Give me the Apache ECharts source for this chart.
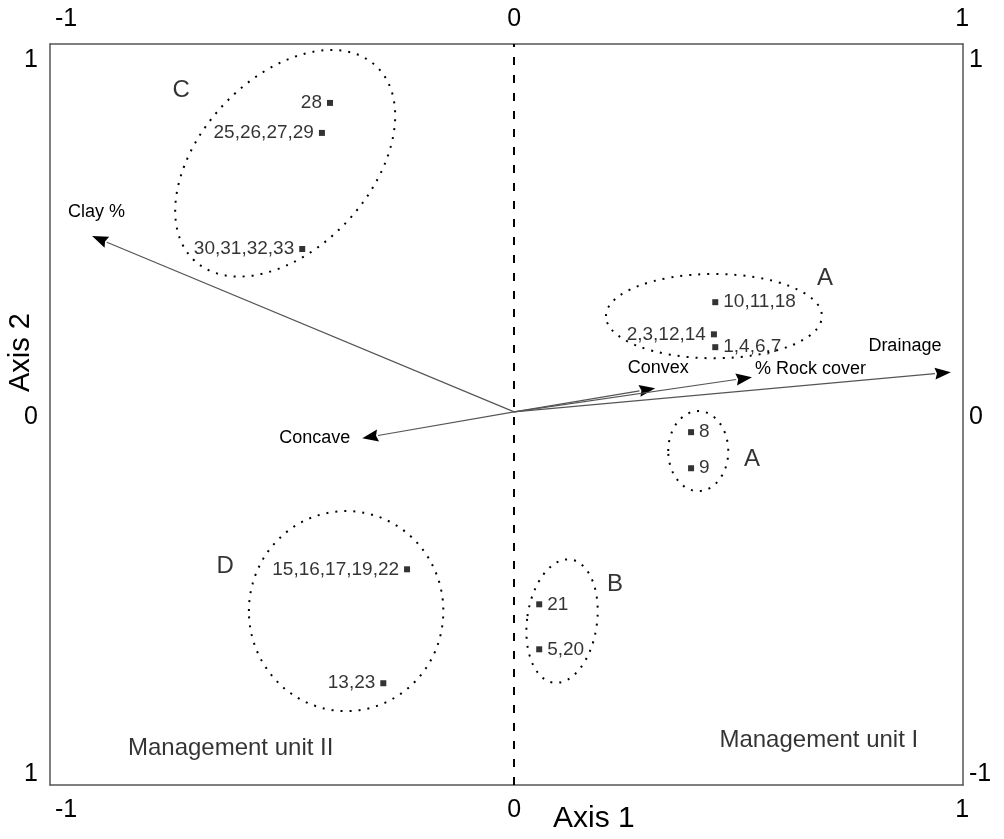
<!DOCTYPE html>
<html><head><meta charset="utf-8">
<script src="https://cdn.jsdelivr.net/npm/echarts@6/dist/echarts.min.js"></script>
<style>html,body{margin:0;padding:0;background:#fff}#c{width:1004px;height:839px}</style>
</head><body><div id="c"></div>
<script>
// ---- tick labels ----
const xTickValues = [-1, 0, 1];
const xTickLabels = ['-1', '0', '1'];
const yTickValues = [-1, 0, 1];
const yLeftLabels = ['1', '0', '1'];
const yRightLabels = ['-1', '0', '1'];

// ---- sites (sample plots) ----
const siteLabels = ['28', '25,26,27,29', '30,31,32,33', '10,11,18', '2,3,12,14', '1,4,6,7', '8', '9', '15,16,17,19,22', '13,23', '21', '5,20'];
const siteAxis1 = [-0.411, -0.429, -0.473, 0.449, 0.446, 0.449, 0.395, 0.395, -0.239, -0.292, 0.056, 0.056];
const siteAxis2 = [0.880, 0.796, 0.471, 0.322, 0.232, 0.196, -0.042, -0.143, -0.426, -0.745, -0.524, -0.650];

// ---- environmental vectors ----
const vectorNames = ['Clay %', 'Concave', 'Convex', '% Rock cover', 'Drainage'];
const vectorAxis1 = [-0.942, -0.339, 0.315, 0.531, 0.975];
const vectorAxis2 = [0.507, -0.059, 0.081, 0.112, 0.126];
const vectorOrigin = [0, 0.015];

// ---- groups (ellipses) ----
const groupNames = ['C', 'A', 'A', 'D', 'B'];
const groupCenterAxis1 = [-0.511, 0.446, 0.411, -0.375, 0.107];
const groupCenterAxis2 = [0.711, 0.283, -0.095, -0.543, -0.571];
const groupRadiusAxis1 = [0.297, 0.241, 0.067, 0.217, 0.078];
const groupRadiusAxis2 = [0.238, 0.118, 0.112, 0.280, 0.174];
const groupTiltDeg = [47, 0, 0, 0, -8];
const groupLetterAxis1 = [-0.743, 0.694, 0.531, -0.645, 0.225];
const groupLetterAxis2 = [0.916, 0.389, -0.118, -0.417, -0.468];

// ---- management units ----
const unitNames = ['Management unit II', 'Management unit I'];
const unitAxis1 = [-0.862, 0.902];
const unitAxis2 = [-0.927, -0.905];

const FONT = 'Liberation Sans, Arial, sans-serif';
const INK = '#000';

const leftLabelled = new Set(['28', '25,26,27,29', '30,31,32,33', '2,3,12,14', '15,16,17,19,22', '13,23']);
// label offsets (pixels) relative to each vector tip: [dx, dy, align]
const vectorLabelPlacement = {
  'Clay %': [-24, -24, 'left'],
  'Concave': [-12, 0, 'right'],
  'Convex': [3, -20, 'center'],
  '% Rock cover': [3, -8, 'left'],
  'Drainage': [-46, -26, 'center']
};

function tickFmt(values, labels) {
  return function (v) { const i = values.indexOf(v); return i >= 0 ? labels[i] : ''; };
}

const axisLineStyle = { show: true, onZero: false, lineStyle: { color: '#555', width: 1.5 } };
const tickLabelStyle = { color: INK, fontSize: 25, fontFamily: FONT };

const siteData = siteLabels.map((n, i) => ({
  value: [siteAxis1[i], siteAxis2[i]], name: n,
  label: { position: leftLabelled.has(n) ? 'left' : 'right' }
}));

const chart = echarts.init(document.getElementById('c'), null, { renderer: 'canvas' });
chart.setOption({
  animation: false,
  backgroundColor: '#fff',
  grid: { left: 50, right: 41, top: 44, bottom: 54 },
  xAxis: [
    { type: 'value', position: 'bottom', min: -1.036, max: 1.002,
      axisLine: axisLineStyle, axisTick: { show: false }, splitLine: { show: false },
      axisLabel: Object.assign({ customValues: xTickValues, margin: 13, formatter: tickFmt(xTickValues, xTickLabels) }, tickLabelStyle) },
    { type: 'value', position: 'top', min: -1.036, max: 1.002,
      axisLine: axisLineStyle, axisTick: { show: false }, splitLine: { show: false },
      axisLabel: Object.assign({ customValues: xTickValues, margin: 12, formatter: tickFmt(xTickValues, xTickLabels) }, tickLabelStyle) }
  ],
  yAxis: [
    { type: 'value', position: 'left', min: -1.03, max: 1.045,
      axisLine: axisLineStyle, axisTick: { show: false }, splitLine: { show: false },
      axisLabel: Object.assign({ customValues: yTickValues, margin: 12, formatter: tickFmt(yTickValues, yLeftLabels) }, tickLabelStyle) },
    { type: 'value', position: 'right', min: -1.03, max: 1.045,
      axisLine: axisLineStyle, axisTick: { show: false }, splitLine: { show: false },
      axisLabel: Object.assign({ customValues: yTickValues, margin: 6, formatter: tickFmt(yTickValues, yRightLabels) }, tickLabelStyle) }
  ],
  graphic: [
    { type: 'text', left: 553, top: 804, style: { text: 'Axis 1', fill: INK, font: '30px ' + FONT } },
    { type: 'text', x: 6, y: 392, rotation: Math.PI / 2, originX: 0, originY: 0,
      style: { text: 'Axis 2', fill: INK, font: '29px ' + FONT, textAlign: 'left', textVerticalAlign: 'top' } }
  ],
  series: [
    {
      type: 'scatter', name: 'sites', xAxisIndex: 0, yAxisIndex: 0,
      symbol: 'rect', symbolSize: 6, itemStyle: { color: '#000' },
      label: { show: true, formatter: '{b}', fontSize: 19, fontFamily: FONT, color: INK, distance: 5 },
      data: siteData,
      markLine: {
        silent: true, symbol: ['none', 'none'], label: { show: false },
        lineStyle: { color: INK, width: 2, type: [8, 10] },
        data: [{ xAxis: 0 }]
      },
      z: 5
    },
    {
      type: 'custom', name: 'groups', xAxisIndex: 0, yAxisIndex: 0,
      data: groupNames.map((n, i) => [groupCenterAxis1[i], groupCenterAxis2[i], groupRadiusAxis1[i], groupRadiusAxis2[i], groupTiltDeg[i]]),
      renderItem: function (params, api) {
        const c = api.coord([api.value(0), api.value(1)]);
        const a = api.size([api.value(2), 0])[0];
        const b = api.size([0, api.value(3)])[1];
        return {
          type: 'ellipse', x: c[0], y: c[1], rotation: api.value(4) * Math.PI / 180,
          shape: { cx: 0, cy: 0, rx: a, ry: b },
          style: { fill: 'none', stroke: INK, lineWidth: 2, lineDash: [2, 7] }
        };
      },
      z: 3
    },
    {
      type: 'custom', name: 'vectors', xAxisIndex: 0, yAxisIndex: 0,
      data: vectorNames.map((n, i) => [vectorOrigin[0], vectorOrigin[1], vectorAxis1[i], vectorAxis2[i], i]),
      renderItem: function (params, api) {
        const p0 = api.coord([api.value(0), api.value(1)]);
        const p1 = api.coord([api.value(2), api.value(3)]);
        const dx = p1[0] - p0[0], dy = p1[1] - p0[1];
        const len = Math.sqrt(dx * dx + dy * dy);
        const ux = dx / len, uy = dy / len, nx = -uy, ny = ux;
        const L = 16, W = 6;
        const bx = p1[0] - ux * L, by = p1[1] - uy * L;
        const name = vectorNames[api.value(4)];
        const pl = vectorLabelPlacement[name];
        return {
          type: 'group', children: [
            { type: 'line', shape: { x1: p0[0], y1: p0[1], x2: bx, y2: by }, style: { stroke: '#555', lineWidth: 1.2 } },
            { type: 'polygon', shape: { points: [[p1[0], p1[1]], [bx + nx * W, by + ny * W], [p1[0] - ux * (L - 2), p1[1] - uy * (L - 2)], [bx - nx * W, by - ny * W]] }, style: { fill: '#000' } },
            { type: 'text', x: p1[0] + pl[0], y: p1[1] + pl[1],
              style: { text: name, fill: INK, font: '18px ' + FONT, textAlign: pl[2], textVerticalAlign: 'middle' } }
          ]
        };
      },
      z: 4
    },
    {
      type: 'scatter', name: 'groupLetters', xAxisIndex: 0, yAxisIndex: 0,
      symbolSize: 0, silent: true,
      label: { show: true, position: 'inside', formatter: '{b}', fontSize: 24, fontFamily: FONT, color: INK },
      data: groupNames.map((n, i) => ({ value: [groupLetterAxis1[i], groupLetterAxis2[i]], name: n }))
    },
    {
      type: 'scatter', name: 'units', xAxisIndex: 0, yAxisIndex: 0,
      symbolSize: 0, silent: true,
      label: { show: true, formatter: '{b}', fontSize: 24, fontFamily: FONT, color: INK, distance: 0 },
      data: unitNames.map((n, i) => ({ value: [unitAxis1[i], unitAxis2[i]], name: n, label: { position: i === 0 ? 'right' : 'left' } }))
    }
  ]
});
</script>
</body></html>
